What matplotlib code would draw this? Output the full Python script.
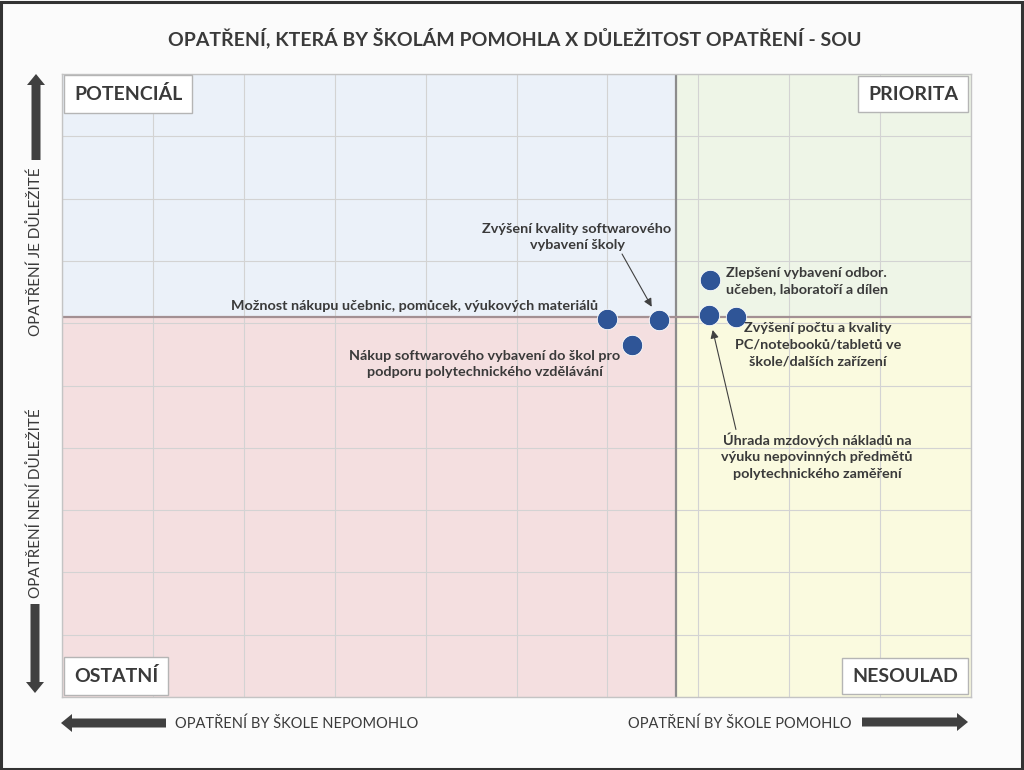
import matplotlib
matplotlib.use("Agg")
import matplotlib.pyplot as plt
from matplotlib.patches import FancyArrow, Rectangle

plt.rcParams['font.family'] = ['Lato', 'DejaVu Sans']

# ---- data ----
labels = [
    "Možnost nákupu učebnic, pomůcek, výukových materiálů",
    "Zvýšení kvality softwarového\nvybavení školy",
    "Nákup softwarového vybavení do škol pro\npodporu polytechnického vzdělávání",
    "Zlepšení vybavení odbor.\nučeben, laboratoří a dílen",
    "Úhrada mzdových nákladů na\nvýuku nepovinných předmětů\npolytechnického zaměření",
    "Zvýšení počtu a kvality\nPC/notebooků/tabletů ve\nškole/dalších zařízení",
]
helpfulness = [6.00, 6.57, 6.27, 7.13, 7.12, 7.41]
importance = [6.07, 6.05, 5.65, 6.69, 6.13, 6.10]
x_split = 6.75
y_split = 6.10
x_range = (0, 10)
y_range = (0, 10)

title = "OPATŘENÍ, KTERÁ BY ŠKOLÁM POMOHLA X DŮLEŽITOST OPATŘENÍ - SOU"
quadrant_names = ["POTENCIÁL", "PRIORITA", "OSTATNÍ", "NESOULAD"]
x_low_label = "OPATŘENÍ BY ŠKOLE NEPOMOHLO"
x_high_label = "OPATŘENÍ BY ŠKOLE POMOHLO"
y_high_label = "OPATŘENÍ JE DŮLEŽITÉ"
y_low_label = "OPATŘENÍ NENÍ DŮLEŽITÉ"

# ---- figure ----
W, H = 1024, 770
fig = plt.figure(figsize=(W / 100, H / 100), dpi=100, facecolor="#fbfbfb")
# outer border
fig.patches.append(Rectangle((0.001, 0.001), 0.997, 0.997, transform=fig.transFigure,
                             fill=False, edgecolor="#333333", linewidth=2.2))

ax = fig.add_axes([62 / W, (H - 697) / H, 909 / W, 623 / H])
ax.set_xlim(*x_range)
ax.set_ylim(*y_range)

# quadrant backgrounds
qcol = {"tl": "#ebf1f9", "tr": "#eef5e7", "bl": "#f4dfe0", "br": "#fafadf"}
x0, x1 = x_range
y0, y1 = y_range
ax.add_patch(Rectangle((x0, y_split), x_split - x0, y1 - y_split, color=qcol["tl"], zorder=0))
ax.add_patch(Rectangle((x_split, y_split), x1 - x_split, y1 - y_split, color=qcol["tr"], zorder=0))
ax.add_patch(Rectangle((x0, y0), x_split - x0, y_split - y0, color=qcol["bl"], zorder=0))
ax.add_patch(Rectangle((x_split, y0), x1 - x_split, y_split - y0, color=qcol["br"], zorder=0))

ax.set_xticks(range(x0, x1 + 1))
ax.set_yticks(range(y0, y1 + 1))
ax.tick_params(length=0, labelbottom=False, labelleft=False)
ax.grid(True, color="#d3d3d3", linewidth=0.8, zorder=1)
ax.set_axisbelow(True)
for s in ax.spines.values():
    s.set_color("#c4c4c4")
    s.set_linewidth(1.0)

ax.axvline(x_split, color="#8c8c8c", linewidth=1.6, zorder=2)
ax.axhline(y_split, color="#a39093", linewidth=1.6, zorder=2)

ax.scatter(helpfulness, importance, s=215, color="#2f5597", edgecolor="white",
           linewidth=0.6, zorder=5)

tc = "#3a3a3a"
fs = 10.4
ls = 1.45
def px(xp, yp):
    return ((xp - 62) / 90.9, (697 - yp) / 62.3)

# labels without arrows
ax.text(*px(598, 306), labels[0], ha="right", va="center", fontsize=fs,
        fontweight="bold", color=tc, zorder=6)
ax.text(*px(485, 364), labels[2], ha="center", va="center", fontsize=fs,
        fontweight="bold", color=tc, zorder=6, linespacing=ls)
ax.text(*px(726, 281), labels[3], ha="left", va="center", fontsize=fs,
        fontweight="bold", color=tc, zorder=6, linespacing=ls)
ax.text(*px(818, 345), labels[5], ha="center", va="center", fontsize=fs,
        fontweight="bold", color=tc, zorder=6, linespacing=ls)

arrowprops = dict(arrowstyle="-|>", color="#404040", lw=0.8, mutation_scale=12,
                  shrinkA=0, shrinkB=11)
ax.annotate(labels[1], xy=(helpfulness[1], importance[1]), xytext=px(577, 237),
            ha="center", va="center", fontsize=fs, fontweight="bold", color=tc,
            linespacing=ls, zorder=6,
            arrowprops=dict(arrowprops, relpos=(0.73, 0.0)))
ax.annotate(labels[4], xy=(helpfulness[4], importance[4]), xytext=px(817, 456),
            ha="center", va="center", fontsize=fs, fontweight="bold", color=tc,
            linespacing=ls, zorder=6,
            arrowprops=dict(arrowprops, relpos=(0.08, 1.0)))

# quadrant label boxes
box = dict(boxstyle="square,pad=0.5", facecolor="white", edgecolor="#b5b5b5", linewidth=1.0)
qfs = 14
ax.text(px(74, 0)[0], px(0, 94)[1], quadrant_names[0], ha="left", va="center",
        fontsize=qfs, fontweight="bold", color=tc, bbox=box, zorder=7)
ax.text(px(958, 0)[0], px(0, 94)[1], quadrant_names[1], ha="right", va="center",
        fontsize=qfs, fontweight="bold", color=tc, bbox=box, zorder=7)
ax.text(px(74, 0)[0], px(0, 676)[1], quadrant_names[2], ha="left", va="center",
        fontsize=qfs, fontweight="bold", color=tc, bbox=box, zorder=7)
ax.text(px(958, 0)[0], px(0, 676)[1], quadrant_names[3], ha="right", va="center",
        fontsize=qfs, fontweight="bold", color=tc, bbox=box, zorder=7)

# title
fig.text(515 / W, 1 - 38 / H, title, ha="center", va="center", fontsize=14,
         fontweight="bold", color="#3a3a3a")

# side labels
fig.text(36 / W, 1 - 252 / H, y_high_label, rotation=90, ha="center", va="center",
         fontsize=11, color=tc)
fig.text(36 / W, 1 - 503 / H, y_low_label, rotation=90, ha="center", va="center",
         fontsize=11, color=tc)
fig.text(175 / W, 1 - 724 / H, x_low_label, ha="left", va="center", fontsize=10.5, color=tc)
fig.text(852 / W, 1 - 724 / H, x_high_label, ha="right", va="center", fontsize=10.5, color=tc)

# big arrows (inches, from bottom-left)
T = fig.dpi_scale_trans
acol = "#404040"
def big_arrow(xa, ya, xb, yb):
    # pixel coordinates (top-left origin)
    x_a, y_a = xa / 100, (H - ya) / 100
    x_b, y_b = xb / 100, (H - yb) / 100
    fig.patches.append(FancyArrow(x_a, y_a, x_b - x_a, y_b - y_a, width=0.09,
                                  head_width=0.18, head_length=0.11,
                                  length_includes_head=True, transform=T,
                                  color=acol, linewidth=0))
big_arrow(36, 160, 36, 74)
big_arrow(35, 604, 35, 693)
big_arrow(166, 723, 61, 723)
big_arrow(862, 722, 968, 722)

fig.savefig("out.png", dpi=100, facecolor=fig.get_facecolor())
